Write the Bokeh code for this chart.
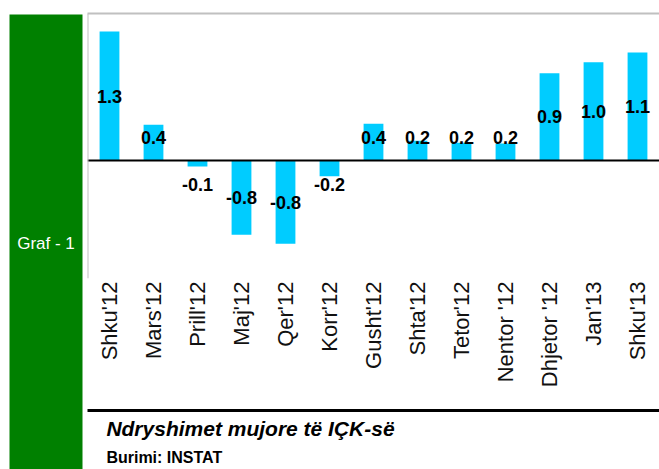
import math
from bokeh.plotting import figure
from bokeh.layouts import row, column
from bokeh.models import (ColumnDataSource, Range1d, Span, LinearAxis, FixedTicker, CategoricalAxis)
from bokeh.core.properties import value
from bokeh.embed import file_html
from bokeh.resources import INLINE

# ---- data ----
months = ["Shku'12", "Mars'12", "Prill'12", "Maj'12", "Qer'12", "Korr'12", "Gusht'12",
          "Shta'12", "Tetor'12", "Nentor '12", "Dhjetor '12", "Jan'13", "Shku'13"]
changes = [1.30, 0.36, -0.06, -0.75, -0.84, -0.16, 0.37, 0.20, 0.18, 0.17, 0.88, 0.99, 1.09]
value_labels = ["1.3", "0.4", "-0.1", "-0.8", "-0.8", "-0.2", "0.4", "0.2", "0.2", "0.2", "0.9", "1.0", "1.1"]
chart_title = "Ndryshimet mujore të IÇK-së"
source_note = "Burimi: INSTAT"
panel_label = "Graf - 1"

BAR = "#00CCFF"
GREEN = "#008000"
GRAY = "#C0C0C0"
FONT = "Liberation Sans"

label_y = [max(v / 2, 0.23) if v >= 0 else min(v / 2, -0.24) for v in changes]
src = ColumnDataSource(dict(m=months, v=changes, t=value_labels, ly=label_y))

# ---- main chart ----
p = figure(x_range=months, y_range=Range1d(-1.19, 1.482), width=576, height=407,
           output_backend="svg", toolbar_location=None, y_axis_location=None,
           min_border=0, min_border_top=13, min_border_bottom=129,
           min_border_left=0, min_border_right=0)
p.background_fill_color = "white"
p.border_fill_color = "white"
p.outline_line_color = None
p.grid.visible = False

p.vbar(x="m", top="v", width=0.45, source=src, color=BAR, line_color=None)
p.add_layout(Span(location=0, dimension="width", line_color="black", line_width=2))
p.add_layout(Span(location=0, dimension="height", line_color=GRAY, line_width=2))
p.text(x="m", y="ly", text="t", source=src, text_align="center", text_baseline="middle",
       text_font=value(FONT), text_font_style="bold",
       text_font_size="18px", text_color="black")

xa = p.xaxis[0]
xa.axis_line_color = None
xa.major_tick_line_color = None
xa.minor_tick_line_color = None
xa.major_tick_out = 0
xa.minor_tick_out = 0
xa.major_label_standoff = 3
xa.axis_label_standoff = 0
xa.major_label_orientation = math.pi / 2
xa.major_label_text_font = FONT
xa.major_label_text_font_size = "22px"
xa.major_label_text_color = "#111111"

top_axis = CategoricalAxis(ticker=FixedTicker(ticks=[], minor_ticks=[]),
                           axis_line_color=GRAY, axis_line_width=2, major_tick_out=0,
                           minor_tick_out=0, major_label_standoff=0, axis_label_standoff=0)
p.add_layout(top_axis, "above")

# ---- footer (rule + caption) ----
f = figure(x_range=Range1d(0, 1), y_range=Range1d(0, 1), width=576, height=62,
           output_backend="svg", toolbar_location=None, x_axis_type=None, y_axis_type=None,
           min_border=0, min_border_top=3, min_border_bottom=0, min_border_left=4,
           min_border_right=0)
f.outline_line_color = None
f.grid.visible = False
f.border_fill_color = "white"
rule = LinearAxis(ticker=FixedTicker(ticks=[], minor_ticks=[]),
                  axis_line_color="black", axis_line_width=3, major_tick_out=0,
                  minor_tick_out=0, major_label_standoff=0, axis_label_standoff=0)
f.add_layout(rule, "above")
f.text(x=[0.033], y=[0.70], text=[chart_title], text_align="left", text_baseline="middle",
       text_font=value(FONT), text_font_style="bold italic",
       text_font_size="21px", text_color="black")
f.text(x=[0.033], y=[0.20], text=[source_note], text_align="left", text_baseline="middle",
       text_font=value(FONT), text_font_style="bold",
       text_font_size="16px", text_color="black")

# ---- green side panel ----
g = figure(x_range=Range1d(0, 1), y_range=Range1d(0, 1), width=83, height=469,
           output_backend="svg", toolbar_location=None, x_axis_type=None, y_axis_type=None,
           min_border=0, min_border_top=14, min_border_bottom=0, min_border_left=9,
           min_border_right=1)
g.background_fill_color = GREEN
g.border_fill_color = "white"
g.outline_line_color = None
g.grid.visible = False
g.text(x=[0.5], y=[0.497], text=[panel_label], text_align="center", text_baseline="middle",
       text_font=value(FONT), text_font_size="17px", text_color="white")

layout = row(g, column(p, f), spacing=0)
open("out.html", "w").write(file_html(layout, INLINE))
